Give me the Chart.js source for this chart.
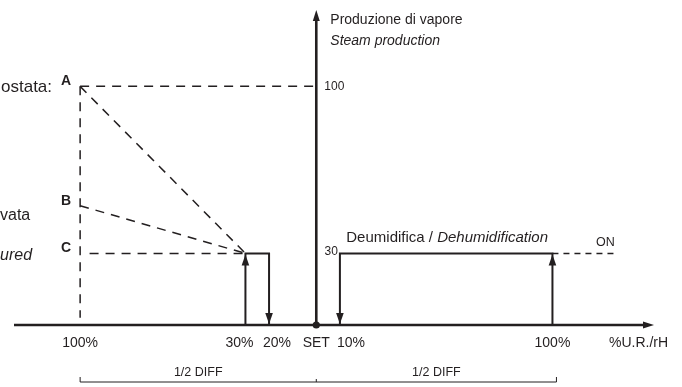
<!DOCTYPE html>
<html>
<head>
<meta charset="utf-8">
<script src="https://cdn.jsdelivr.net/npm/chart.js@4/dist/chart.umd.min.js"></script>
<style>
  html,body{margin:0;padding:0;background:#fff;}
  #wrap{width:682px;height:387px;position:relative;}
</style>
</head>
<body>
<div id="wrap"><canvas id="c" width="682" height="387"></canvas></div>
<script>
// ---- data ----
const xTickValues = [-100, -30, -20, 0, 10, 100];
const xTickLabels = ['100%', '30%', '20%', 'SET', '10%', '100%'];
const xAxisTitle = '%U.R./rH';
const yTickValues = [100, 30];
const yTickLabels = ['100', '30'];
const levelNames = ['A', 'B', 'C'];
const levelValues = [100, 50, 30];
const leftEdgeX = -100;
const convergeX = -30;
const humidStepX = [-30, -30, -20, -20];
const humidStepY = [0, 30, 30, 0];
const dehumStepX = [10, 10, 100, 100];
const dehumStepY = [0, 30, 30, 0];
const dehumOnX = [100, 126];
const dehumOnY = [30, 30];
const halfDiffX = [-100, 0, 100];
const halfDiffLabel = '1/2 DIFF';

const FONT = '"Liberation Sans", Arial, Helvetica, sans-serif';
const INK = '#231f20';

function pts(xs, ys) { return xs.map((x, i) => ({x: x, y: ys[i]})); }

const dashedStyle = {borderColor: INK, borderWidth: 1.5, borderDash: [9, 7], pointRadius: 0, showLine: true, fill: false};
const solidStyle = {borderColor: INK, borderWidth: 2, pointRadius: 0, showLine: true, fill: false};

const datasets = [
  Object.assign({label: 'left', data: [{x: leftEdgeX, y: levelValues[0]}, {x: leftEdgeX, y: 3}]}, dashedStyle),
  Object.assign({label: 'top', data: [{x: leftEdgeX, y: levelValues[0]}, {x: 0, y: levelValues[0]}]}, dashedStyle),
  Object.assign({label: 'A', data: [{x: leftEdgeX, y: levelValues[0]}, {x: convergeX, y: levelValues[2]}]}, dashedStyle),
  Object.assign({label: 'B', data: [{x: leftEdgeX, y: levelValues[1]}, {x: convergeX, y: levelValues[2]}]}, dashedStyle),
  Object.assign({label: 'C', data: [{x: leftEdgeX + 4, y: levelValues[2]}, {x: convergeX, y: levelValues[2]}]}, dashedStyle),
  Object.assign({label: 'humid', data: pts(humidStepX, humidStepY), arrows: [[1, 'up'], [3, 'down']]}, solidStyle),
  Object.assign({label: 'dehum', data: pts(dehumStepX, dehumStepY), arrows: [[0, 'down'], [2, 'up']]}, solidStyle),
  Object.assign({label: 'on', data: pts(dehumOnX, dehumOnY)}, dashedStyle, {borderDash: [6, 5]})
];

function arrowHead(ctx, x, y, dir, len, half) {
  ctx.beginPath();
  if (dir === 'up') { ctx.moveTo(x, y); ctx.lineTo(x - half, y + len); ctx.lineTo(x + half, y + len); }
  else if (dir === 'down') { ctx.moveTo(x, y); ctx.lineTo(x - half, y - len); ctx.lineTo(x + half, y - len); }
  else if (dir === 'right') { ctx.moveTo(x, y); ctx.lineTo(x - len, y - half); ctx.lineTo(x - len, y + half); }
  ctx.closePath();
  ctx.fill();
}

// small horizontal nudges for crowded tick labels (px)
const tickNudge = {'30%': -6, '20%': 8, 'SET': 0, '10%': 11};

const diagram = {
  id: 'diagram',
  beforeDatasetsDraw(chart) {
    const ctx = chart.ctx, xs = chart.scales.x, ys = chart.scales.y;
    const y0 = ys.getPixelForValue(0), x0 = xs.getPixelForValue(0);
    ctx.save();
    ctx.strokeStyle = INK; ctx.fillStyle = INK;
    ctx.lineWidth = 2.6;
    ctx.beginPath(); ctx.moveTo(xs.left, y0); ctx.lineTo(xs.right - 8, y0); ctx.stroke();
    arrowHead(ctx, xs.right, y0, 'right', 11, 3.5);
    ctx.beginPath(); ctx.moveTo(x0, y0); ctx.lineTo(x0, ys.top + 8); ctx.stroke();
    arrowHead(ctx, x0, ys.top, 'up', 11, 3.5);
    ctx.restore();
  },
  afterDatasetsDraw(chart) {
    const ctx = chart.ctx, xs = chart.scales.x, ys = chart.scales.y;
    const y0 = ys.getPixelForValue(0), x0 = xs.getPixelForValue(0);
    ctx.save();
    ctx.fillStyle = INK; ctx.strokeStyle = INK;
    chart.data.datasets.forEach((ds, i) => {
      if (!ds.arrows) return;
      const meta = chart.getDatasetMeta(i);
      ds.arrows.forEach(([idx, dir]) => {
        const p = meta.data[idx];
        arrowHead(ctx, p.x, p.y + (dir === 'down' ? -1 : 1), dir, 11, 3.8);
      });
    });
    ctx.beginPath(); ctx.arc(x0, y0, 3.6, 0, Math.PI * 2); ctx.fill();

    // x tick labels
    ctx.font = '14px ' + FONT;
    ctx.textAlign = 'center'; ctx.textBaseline = 'middle';
    xTickValues.forEach((v, i) => {
      const dx = tickNudge[xTickLabels[i]] || 0;
      ctx.fillText(xTickLabels[i], xs.getPixelForValue(v) + dx, y0 + 18);
    });
    ctx.textAlign = 'left';
    ctx.fillText(xAxisTitle, 609, y0 + 18);

    // y tick labels
    ctx.font = '12px ' + FONT;
    ctx.textAlign = 'left';
    ctx.fillText(yTickLabels[0], x0 + 8, ys.getPixelForValue(yTickValues[0]));
    ctx.textAlign = 'right';
    ctx.fillText(yTickLabels[1], xs.getPixelForValue(dehumStepX[0]) - 2, ys.getPixelForValue(yTickValues[1]) - 2);

    // y title
    ctx.textAlign = 'left'; ctx.textBaseline = 'alphabetic';
    ctx.font = '14px ' + FONT;
    ctx.fillText('Produzione di vapore', x0 + 14, 24);
    ctx.font = 'italic 14px ' + FONT;
    ctx.fillText('Steam production', x0 + 14, 45);

    // dehumidification label
    const y30 = ys.getPixelForValue(30);
    ctx.textBaseline = 'middle';
    ctx.font = '15px ' + FONT;
    const t1 = 'Deumidifica / ';
    const xd = x0 + 30;
    ctx.fillText(t1, xd, y30 - 16);
    const w1 = ctx.measureText(t1).width;
    ctx.font = 'italic 15px ' + FONT;
    ctx.fillText('Dehumidification', xd + w1, y30 - 16);
    ctx.font = '12.5px ' + FONT;
    ctx.fillText('ON', 596, y30 - 11);

    // level letters
    ctx.font = 'bold 14px ' + FONT;
    ctx.textAlign = 'center';
    const xl = xs.getPixelForValue(leftEdgeX);
    levelNames.forEach((n, i) => {
      ctx.fillText(n, xl - 14, ys.getPixelForValue(levelValues[i]) - 5);
    });

    // cut-off left texts (continuing beyond the left edge)
    ctx.textAlign = 'right';
    ctx.font = '17px ' + FONT;
    const edgeA = ctx.measureText('ostata:').width + 1;
    ctx.fillText('Umidità richiesta da umidostata:', edgeA, ys.getPixelForValue(levelValues[0]) + 1);
    ctx.font = '16px ' + FONT;
    const edgeB = ctx.measureText('vata').width;
    ctx.fillText('Umidità rilevata', edgeB, ys.getPixelForValue(levelValues[1]) + 10);
    ctx.font = 'italic 16px ' + FONT;
    const edgeC = ctx.measureText('ured').width;
    ctx.fillText('Humidity measured', edgeC, ys.getPixelForValue(levelValues[2]) + 2);

    // 1/2 DIFF brackets
    const by = 382;
    const bx = halfDiffX.map(v => xs.getPixelForValue(v));
    ctx.lineWidth = 1;
    ctx.beginPath();
    ctx.moveTo(bx[0], by - 5); ctx.lineTo(bx[0], by); ctx.lineTo(bx[2] + 4, by); ctx.lineTo(bx[2] + 4, by - 5);
    ctx.moveTo(bx[1], by - 3); ctx.lineTo(bx[1], by);
    ctx.stroke();
    ctx.font = '12.5px ' + FONT;
    ctx.textAlign = 'center'; ctx.textBaseline = 'alphabetic';
    ctx.fillText(halfDiffLabel, (bx[0] + bx[1]) / 2, by - 6);
    ctx.fillText(halfDiffLabel, (bx[1] + bx[2]) / 2 + 2, by - 6);
    ctx.restore();
  }
};

new Chart(document.getElementById('c'), {
  type: 'scatter',
  data: {datasets: datasets},
  options: {
    responsive: false,
    animation: false,
    layout: {padding: {left: 14, right: 28, top: 10, bottom: 62}},
    plugins: {legend: {display: false}, tooltip: {enabled: false}},
    scales: {
      x: {type: 'linear', min: -128, max: 143, display: false},
      y: {type: 'linear', min: 0, max: 132, display: false}
    }
  },
  plugins: [diagram]
});
</script>
</body>
</html>
